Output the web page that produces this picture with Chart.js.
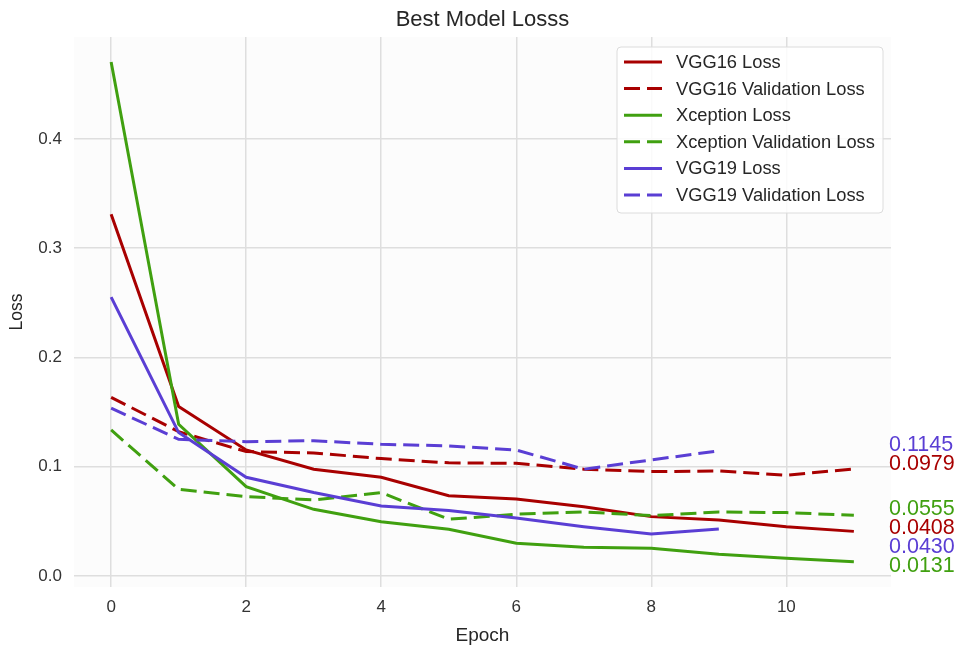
<!DOCTYPE html>
<html lang="en">
<head>
    <meta charset="UTF-8">
    <title>Best Model Losss</title>
    <script src="https://cdn.jsdelivr.net/npm/chart.js"></script>
    <style>
        body {
            margin: 0;
            background: #fff;
        }
        #wrap {
            width: 960px;
            height: 647px;
        }
    </style>
</head>
<body>
    <div id="wrap"><canvas id="lossChart" width="960" height="647"></canvas></div>

    <script>
        // epochs and loss values
        const epochs = [0, 1, 2, 3, 4, 5, 6, 7, 8, 9, 10, 11];
        const vgg16Loss = [0.331, 0.155, 0.1153, 0.0977, 0.0903, 0.0735, 0.0705, 0.0634, 0.0543, 0.0513, 0.0451, 0.0408];
        const vgg16ValLoss = [0.1635, 0.132, 0.1138, 0.1126, 0.1074, 0.1035, 0.1031, 0.0977, 0.0955, 0.0961, 0.0922, 0.0979];
        const xceptionLoss = [0.4703, 0.1388, 0.0818, 0.061, 0.0497, 0.0427, 0.0299, 0.0263, 0.0253, 0.0198, 0.0162, 0.0131];
        const xceptionValLoss = [0.1336, 0.0793, 0.0726, 0.0696, 0.0763, 0.0519, 0.0565, 0.0586, 0.0552, 0.0586, 0.058, 0.0555];
        const vgg19Loss = [0.2551, 0.1312, 0.0903, 0.0763, 0.0641, 0.0598, 0.0531, 0.0451, 0.0384, 0.0430];
        const vgg19ValLoss = [0.1535, 0.1251, 0.1229, 0.1238, 0.1205, 0.119, 0.1153, 0.0977, 0.1062, 0.1145];

        const seriesNames = ['VGG16 Loss', 'VGG16 Validation Loss', 'Xception Loss', 'Xception Validation Loss', 'VGG19 Loss', 'VGG19 Validation Loss'];
        const xTicks = [0, 2, 4, 6, 8, 10];
        const yTicks = [0, 0.1, 0.2, 0.3, 0.4];

        const RED = '#a80000', GREEN = '#40a010', BLUE = '#5a3ed4';
        const DASH = [16, 7];
        const FONT = "'Liberation Sans', Arial, sans-serif";

        const allSeries = [vgg16Loss, vgg16ValLoss, xceptionLoss, xceptionValLoss, vgg19Loss, vgg19ValLoss];
        const colors = [RED, RED, GREEN, GREEN, BLUE, BLUE];

        function toPoints(vals) {
            return vals.map((v, i) => ({ x: epochs[i], y: v }));
        }

        const datasets = allSeries.map((vals, i) => ({
            label: seriesNames[i],
            data: toPoints(vals),
            borderColor: colors[i],
            backgroundColor: colors[i],
            borderWidth: 3,
            borderDash: i % 2 ? DASH : [],
            pointRadius: 0,
            tension: 0,
            fill: false,
            order: -i // later series on top, like matplotlib
        }));

        // light plot background + title centred over the plot
        const plotBg = {
            id: 'plotBg',
            beforeDraw(chart) {
                const a = chart.chartArea, c = chart.ctx;
                c.save();
                c.fillStyle = '#fcfcfc';
                c.fillRect(a.left, a.top, a.right - a.left, a.bottom - a.top);
                c.fillStyle = '#262626';
                c.font = '22px ' + FONT;
                c.textAlign = 'center';
                c.textBaseline = 'middle';
                c.fillText('Best Model Losss', (a.left + a.right) / 2, 20);
                c.restore();
            }
        };

        // last-value labels on the right, pushed down so they don't overlap
        const labelOrder = [5, 1, 3, 0, 4, 2];
        const endLabels = {
            id: 'endLabels',
            afterDraw(chart) {
                const c = chart.ctx, ys = chart.scales.y;
                c.save();
                c.font = '21.5px ' + FONT;
                c.textAlign = 'left';
                c.textBaseline = 'alphabetic';
                let prev = -1e9;
                labelOrder.forEach(i => {
                    const vals = allSeries[i];
                    const last = vals[vals.length - 1];
                    let y = ys.getPixelForValue(last);
                    y = Math.max(y, prev + 19);
                    prev = y;
                    c.fillStyle = colors[i];
                    c.fillText(last.toFixed(4), chart.chartArea.right - 2, y);
                });
                c.restore();
            }
        };

        // legend box in the upper right corner of the plot
        const boxLegend = {
            id: 'boxLegend',
            afterDraw(chart) {
                const c = chart.ctx, a = chart.chartArea;
                const w = 266, h = 166, rowH = 26.6;
                const x0 = a.right - 8 - w, y0 = a.top + 10;
                c.save();
                c.beginPath();
                c.roundRect(x0, y0, w, h, 4);
                c.fillStyle = 'rgba(255,255,255,0.85)';
                c.fill();
                c.strokeStyle = '#dcdcdc';
                c.lineWidth = 1;
                c.stroke();
                c.font = '18.3px ' + FONT;
                c.textBaseline = 'middle';
                datasets.forEach((ds, i) => {
                    const y = y0 + 15 + i * rowH;
                    c.beginPath();
                    c.setLineDash(ds.borderDash);
                    c.strokeStyle = ds.borderColor;
                    c.lineWidth = 3;
                    c.moveTo(x0 + 7, y);
                    c.lineTo(x0 + 45, y);
                    c.stroke();
                    c.setLineDash([]);
                    c.fillStyle = '#262626';
                    c.fillText(ds.label, x0 + 59, y + 1);
                });
                c.restore();
            }
        };

        new Chart(document.getElementById('lossChart'), {
            type: 'line',
            data: { datasets: datasets },
            options: {
                responsive: false,
                animation: false,
                layout: { padding: { left: 0, right: 69, top: 37, bottom: 0 } },
                plugins: {
                    legend: { display: false },
                    tooltip: { enabled: false },
                    title: { display: false }
                },
                scales: {
                    x: {
                        type: 'linear',
                        min: -0.55,
                        max: 11.55,
                        afterBuildTicks: s => { s.ticks = xTicks.map(v => ({ value: v })); },
                        afterFit: s => { s.height = 60; },
                        border: { display: false },
                        grid: { color: '#dedede', lineWidth: 1.5, drawTicks: false },
                        ticks: { color: '#333', padding: 10, font: { family: FONT, size: 17 } },
                        title: {
                            display: true,
                            text: 'Epoch',
                            color: '#262626',
                            padding: { top: 4, bottom: 0 },
                            font: { family: FONT, size: 19 }
                        }
                    },
                    y: {
                        min: -0.0101,
                        max: 0.4932,
                        afterBuildTicks: s => { s.ticks = yTicks.map(v => ({ value: v })); },
                        afterFit: s => { s.width = 74; },
                        border: { display: false },
                        grid: { color: '#dedede', lineWidth: 1.5, drawTicks: false },
                        ticks: {
                            color: '#333',
                            padding: 12,
                            font: { family: FONT, size: 17 },
                            callback: v => v.toFixed(1)
                        },
                        title: {
                            display: true,
                            text: 'Loss',
                            color: '#262626',
                            padding: { top: 7, bottom: 4 },
                            font: { family: FONT, size: 17.5 }
                        }
                    }
                }
            },
            plugins: [plotBg, endLabels, boxLegend]
        });
    </script>
</body>
</html>
